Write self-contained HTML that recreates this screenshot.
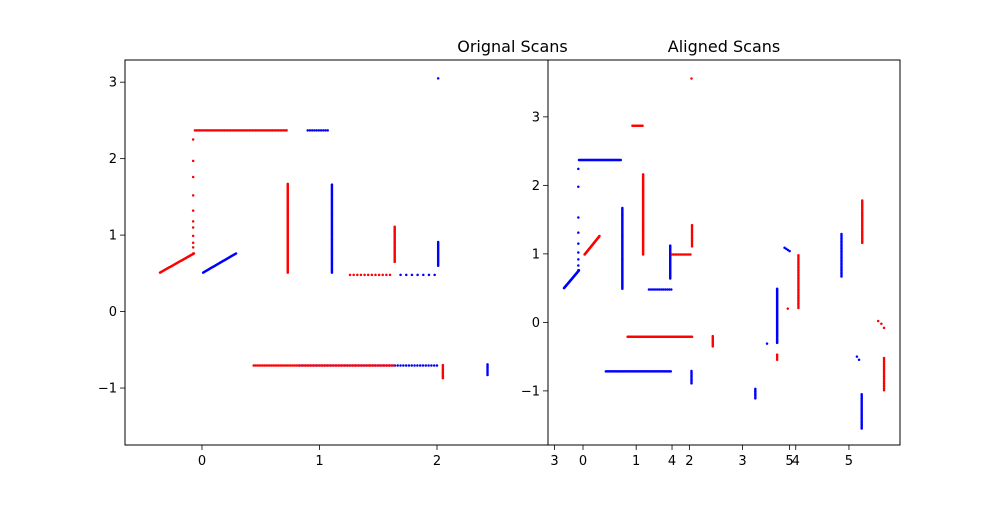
<!DOCTYPE html>
<html><head><meta charset="utf-8"><style>
body{margin:0;background:#fff}
svg text{font-family:"DejaVu Sans","Liberation Sans",sans-serif;fill:#000}
</style></head><body>
<svg id="fig" width="1000" height="500" viewBox="0 0 1000 500" xmlns="http://www.w3.org/2000/svg">
<defs><clipPath id="clipL"><rect x="125" y="60" width="775" height="385"/></clipPath>
<clipPath id="clipR"><rect x="548" y="60" width="352" height="385"/></clipPath></defs>
<rect width="1000" height="500" fill="#fff"/>
<g id="left"></g>
<g id="right"></g>
</svg>
<script>
// Segments: [x1, y1, x2, y2, pointCount] in data units
const origRedSegs = [[-0.357,0.51,-0.068,0.76,40],[-0.06,2.37,0.72,2.37,60],[0.73,0.51,0.73,1.67,80],[1.26,0.48,1.6,0.48,12],[1.64,0.65,1.64,1.11,30],[0.44,-0.706,1.63,-0.706,80],[2.05,-0.70,2.05,-0.87,10]];
const origRedPts = [[-0.075,0.76],[-0.075,0.84],[-0.075,0.90],[-0.075,0.99],[-0.075,1.10],[-0.075,1.18],[-0.075,1.32],[-0.075,1.52],[-0.075,1.76],[-0.075,1.97],[-0.075,2.25]];
const origBlueSegs = [[0.01,0.51,0.29,0.76,40],[0.9,2.37,1.07,2.37,10],[1.106,0.51,1.106,1.66,80],[1.69,0.48,1.98,0.48,7],[2.01,0.60,2.01,0.91,20],[0.83,-0.706,2.0,-0.706,50],[2.43,-0.69,2.43,-0.83,8]];
const origBluePts = [[2.01,3.05]];
const alBlueSegs = [[-0.357,0.50,-0.075,0.76,40],[-0.075,2.37,0.71,2.37,60],[0.74,0.49,0.74,1.67,80],[1.24,0.48,1.66,0.48,12],[1.64,0.64,1.64,1.12,30],[0.43,-0.715,1.65,-0.715,70],[2.04,-0.71,2.04,-0.89,10],[3.24,-0.97,3.24,-1.11,8],[3.65,-0.30,3.65,0.49,60],[3.79,1.09,3.885,1.04,4],[4.86,0.67,4.86,1.29,30],[5.24,-1.05,5.24,-1.55,25]];
const alBluePts = [[-0.088,0.76],[-0.088,0.83],[-0.088,0.92],[-0.088,1.02],[-0.088,1.15],[-0.088,1.31],[-0.088,1.53],[-0.088,1.98],[-0.088,2.24],[3.46,-0.31],[5.15,-0.50],[5.19,-0.545]];
const alRedSegs = [[0.03,0.99,0.31,1.26,40],[0.93,2.87,1.12,2.87,10],[1.13,0.99,1.13,2.16,80],[1.67,0.99,2.02,0.99,12],[2.05,1.11,2.05,1.42,15],[0.84,-0.21,2.05,-0.21,70],[2.44,-0.20,2.44,-0.35,8],[3.65,-0.47,3.65,-0.545,4],[4.05,0.21,4.05,0.98,35],[5.25,1.16,5.25,1.78,30],[5.66,-0.52,5.66,-0.99,20]];
const alRedPts = [[2.04,3.56],[3.85,0.20],[5.55,0.02],[5.61,-0.02],[5.66,-0.08]];
const xTicks = [0,1,2,3,4,5];
const yTicks = [-1,0,1,2,3];

const NS="http://www.w3.org/2000/svg";
function mk(tag,attrs,parent){const e=document.createElementNS(NS,tag);for(const k in attrs)e.setAttribute(k,attrs[k]);parent.appendChild(e);return e;}

function drawAxes(g,cfg){
  const sx=v=>cfg.x0+(v-cfg.xmin)/(cfg.xmax-cfg.xmin)*cfg.w;
  const sy=v=>cfg.y0+cfg.h-(v-cfg.ymin)/(cfg.ymax-cfg.ymin)*cfg.h;
  const bg=mk('rect',{x:cfg.x0,y:cfg.y0,width:cfg.w,height:cfg.h,fill:'#fff'},g);
  
  
  const dg=mk('g',{'clip-path':'url(#'+cfg.clip+')'},g);
  
  
  function dot(x,y,c,name){const d=mk('circle',{cx:sx(x).toFixed(2),cy:sy(y).toFixed(2),r:1.25,fill:c},dg);
    
    }
  cfg.series.forEach(s=>{
    s.segs.forEach(sg=>{const n=sg[4];for(let i=0;i<n;i++){const t=n>1?i/(n-1):0;dot(sg[0]+(sg[2]-sg[0])*t,sg[1]+(sg[3]-sg[1])*t,s.color,s.name);}});
    s.pts.forEach(p=>dot(p[0],p[1],s.color,s.name));
  });
  const fr=mk('rect',{x:cfg.x0,y:cfg.y0,width:cfg.w,height:cfg.h,fill:'none',stroke:'#000','stroke-width':1},g);
  
  
  xTicks.forEach(v=>{const x=sx(v);if(x<cfg.x0-0.5||x>cfg.x0+cfg.w+0.5)return;
    mk('line',{x1:x,y1:cfg.y0+cfg.h,x2:x,y2:cfg.y0+cfg.h+5,stroke:'#000','stroke-width':0.8},g);
    const t=mk('text',{x:x,y:cfg.y0+cfg.h+20,'text-anchor':'middle','font-size':13},g);t.textContent=v;
    
    });
  yTicks.forEach(v=>{const y=sy(v);
    mk('line',{x1:cfg.x0-5,y1:y,x2:cfg.x0,y2:y,stroke:'#000','stroke-width':0.8},g);
    const t=mk('text',{x:cfg.x0-8,y:y+4.5,'text-anchor':'end','font-size':13},g);t.textContent=v;
    if(v<0)t.textContent='\u2212'+Math.abs(v);
    
    });
  const ti=mk('text',{x:cfg.x0+cfg.w/2,y:52,'text-anchor':'middle','font-size':16},g);ti.textContent=cfg.title;
  
  
}
drawAxes(document.getElementById('left'),{x0:125,y0:60,w:775,h:385,xmin:-0.655,xmax:5.94,ymin:-1.745,ymax:3.29,clip:'clipL',title:'Orignal Scans',
  series:[{segs:origBlueSegs,pts:origBluePts,color:'#0000ff',name:'original-blue-scan'},{segs:origRedSegs,pts:origRedPts,color:'#ff0000',name:'original-red-scan'}]});
drawAxes(document.getElementById('right'),{x0:548,y0:60,w:352,h:385,xmin:-0.658,xmax:5.96,ymin:-1.79,ymax:3.83,clip:'clipR',title:'Aligned Scans',
  series:[{segs:alBlueSegs,pts:alBluePts,color:'#0000ff',name:'aligned-blue-scan'},{segs:alRedSegs,pts:alRedPts,color:'#ff0000',name:'aligned-red-scan'}]});
</script>
</body></html>
